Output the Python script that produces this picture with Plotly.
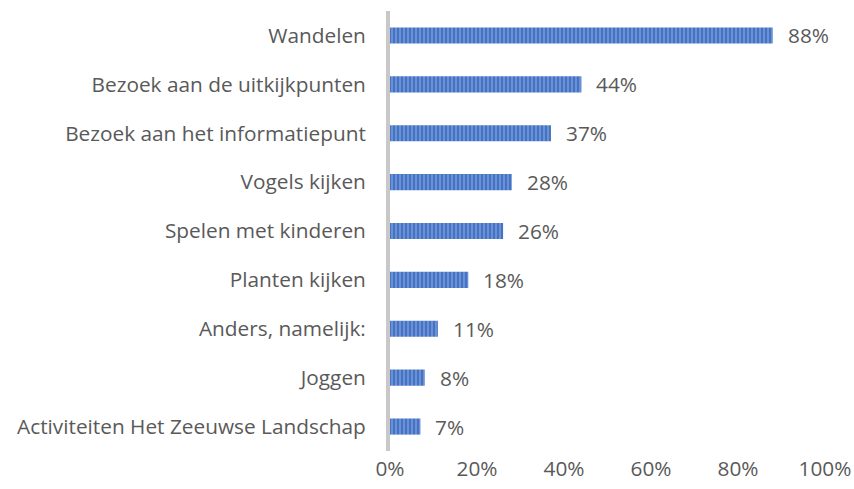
import plotly.graph_objects as go

categories = ["Wandelen", "Bezoek aan de uitkijkpunten", "Bezoek aan het informatiepunt",
              "Vogels kijken", "Spelen met kinderen", "Planten kijken",
              "Anders, namelijk:", "Joggen", "Activiteiten Het Zeeuwse Landschap"]
values = [88, 44, 37, 28, 26, 18, 11, 8, 7]
tick_vals = [0, 20, 40, 60, 80, 100]
tick_text = ["0%", "20%", "40%", "60%", "80%", "100%"]

FONT = "Open Sans"
TXT = "#595959"
FS = 20.8

fig = go.Figure(go.Bar(
    x=values, y=categories, orientation="h",
    marker=dict(color="#4472C4", line=dict(width=0),
                pattern=dict(shape="|", fgcolor="#9DB5E3", bgcolor="#4472C4",
                             size=4, solidity=0.45)),
    hoverinfo="x+y",
))

for v, c in zip(values, categories):
    fig.add_annotation(x=v, y=c, text=f"{v}%", showarrow=False,
                       xanchor="left", yanchor="middle", xshift=13,
                       font=dict(size=FS, color=TXT, family=FONT))

fig.update_layout(
    width=854, height=489,
    margin=dict(l=390, r=29, t=11, b=38),
    paper_bgcolor="white", plot_bgcolor="white",
    bargap=0.67, showlegend=False,
    font=dict(family=FONT, size=FS, color=TXT),
)
fig.update_xaxes(range=[0, 100], tickvals=tick_vals, ticktext=tick_text,
                 showgrid=False, zeroline=False, showline=False, automargin=False,
                 ticklabelstandoff=3,
                 tickfont=dict(size=FS, color=TXT, family=FONT), ticklen=0, ticks="")
fig.update_yaxes(categoryorder="array", categoryarray=categories[::-1],
                 showline=True, linecolor="#C8C8C8", linewidth=4,
                 showgrid=False, ticks="", ticklen=0, automargin=False,
                 ticklabelstandoff=16,
                 tickfont=dict(size=FS, color=TXT, family=FONT))
fig.write_html("out.html", config={"displayModeBar": False})

with open("out.html", "r", encoding="utf-8") as f:
    html = f.read()
html = html.replace("<head>", "<head><style>html,body{margin:0;padding:0;overflow:hidden}</style>", 1)
with open("out.html", "w", encoding="utf-8") as f:
    f.write(html)
